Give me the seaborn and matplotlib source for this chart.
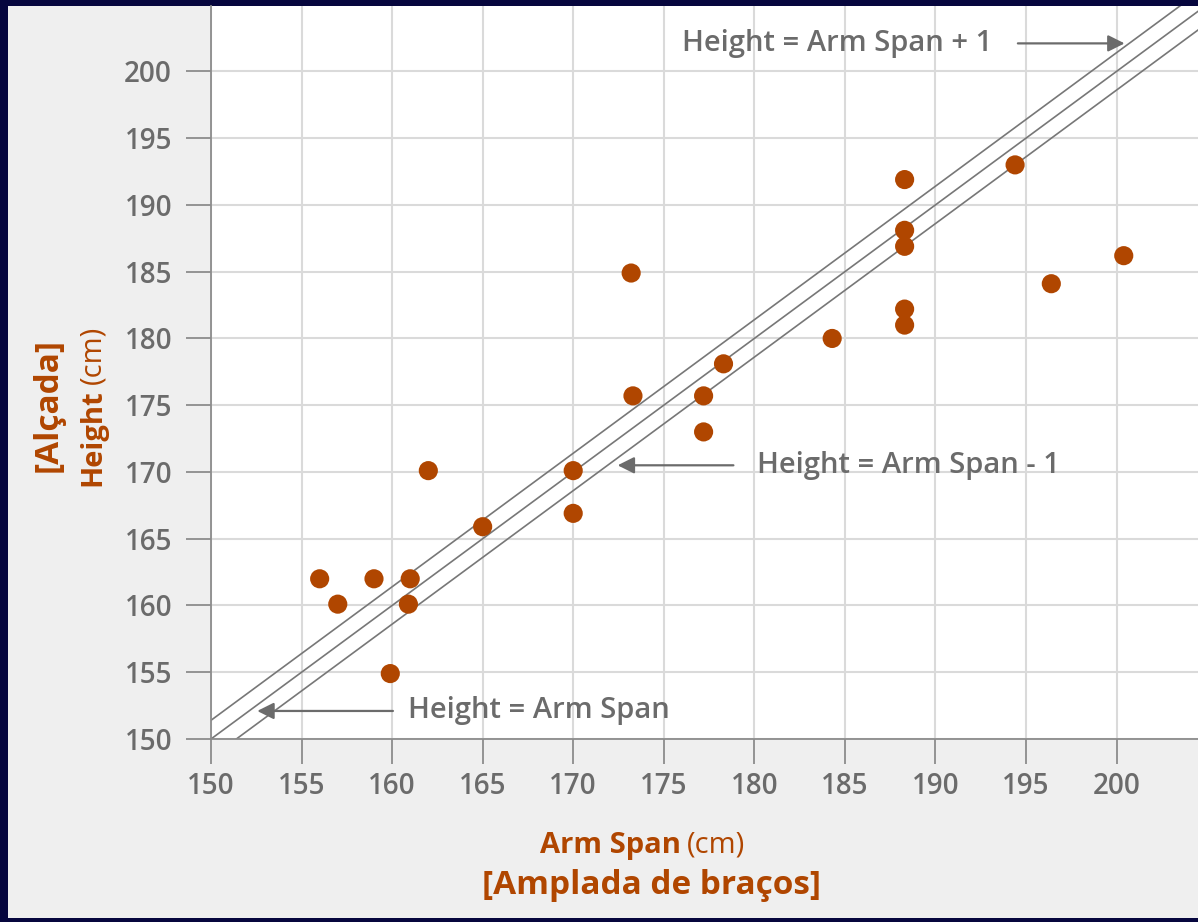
import numpy as np
import pandas as pd
import matplotlib.pyplot as plt
import seaborn as sns
from matplotlib.patches import Rectangle

# data
arm_span = [156.0, 157.0, 159.0, 161.0, 160.9, 159.9, 162.0, 165.0, 170.0, 170.0,
            173.2, 173.3, 177.2, 177.2, 178.3, 184.3, 188.3, 188.3, 188.3, 188.3,
            188.3, 194.4, 196.4, 200.4]
height = [162.0, 160.1, 162.0, 162.0, 160.1, 154.9, 170.1, 165.9, 170.1, 166.9,
          184.9, 175.7, 175.7, 173.0, 178.1, 180.0, 191.9, 188.1, 186.9, 182.2,
          181.0, 193.0, 184.1, 186.2]
line_offsets = [-1.4, 0.0, 1.4]
line_x = [140, 215]
ticks = [150, 155, 160, 165, 170, 175, 180, 185, 190, 195, 200]

ORANGE = '#b04600'
GRAY = '#6b6b6b'

df = pd.DataFrame({'ArmSpan': arm_span, 'Height': height})

sns.set_theme(style="whitegrid")
plt.rcParams['font.family'] = ['Open Sans', 'DejaVu Sans']

fig = plt.figure(figsize=(11.98, 9.22), dpi=100, facecolor='#06063e')
# light gray panel inside the navy border
fig.patches.append(Rectangle((8 / 1198, 4 / 922), 1190 / 1198, 912 / 922,
                             transform=fig.transFigure, facecolor='#efefef',
                             edgecolor='none', zorder=-10))

ax = fig.add_axes([211 / 1198, (922 - 739) / 922, 987 / 1198, 733 / 922])
ax.set_facecolor('white')

for off in line_offsets:
    ly = [v + off for v in line_x]
    sns.lineplot(x=line_x, y=ly, ax=ax, color='#777777', linewidth=1.2, zorder=2)

sns.scatterplot(data=df, x='ArmSpan', y='Height', ax=ax, color=ORANGE,
                s=190, edgecolor='none', zorder=3)

ax.set_xlim(150, 204.5)
ax.set_ylim(150, 204.9)
ax.set_xticks(ticks)
ax.set_yticks(ticks)
ax.grid(True, color='#dadada', linewidth=1.5)
for side in ['top', 'right']:
    ax.spines[side].set_visible(False)
for side in ['left', 'bottom']:
    ax.spines[side].set_color('#8c8c8c')
    ax.spines[side].set_linewidth(1.3)
ax.tick_params(axis='both', direction='out', length=18, width=1.3, color='#8c8c8c',
               labelcolor=GRAY, labelsize=20, left=True, bottom=True)
ax.tick_params(axis='y', pad=10)
ax.tick_params(axis='x', pad=6)
for lab in ax.get_xticklabels() + ax.get_yticklabels():
    lab.set_fontweight('semibold')
ax.set_xlabel('')
ax.set_ylabel('')

# annotations
arrow = dict(arrowstyle='-|>', color=GRAY, lw=1.6, mutation_scale=25)
ax.annotate('', xy=(200.6, 202.1), xytext=(194.4, 202.1), arrowprops=arrow)
ax.text(184.6, 202.1, 'Height = Arm Span + 1', color=GRAY, fontsize=21,
        fontweight='semibold', ha='center', va='center')
ax.annotate('', xy=(172.3, 170.5), xytext=(179.0, 170.5), arrowprops=arrow)
ax.text(188.5, 170.5, 'Height = Arm Span - 1', color=GRAY, fontsize=21,
        fontweight='semibold', ha='center', va='center')
ax.annotate('', xy=(152.4, 152.1), xytext=(160.2, 152.1), arrowprops=arrow)
ax.text(168.1, 152.1, 'Height = Arm Span', color=GRAY, fontsize=21,
        fontweight='semibold', ha='center', va='center')

# axis titles
fig.text(681 / 1198, 1 - 845 / 922, 'Arm Span', color=ORANGE, fontsize=21,
         fontweight='bold', ha='right', va='center')
fig.text(687 / 1198, 1 - 845 / 922, '(cm)', color=ORANGE, fontsize=21,
         ha='left', va='center')
fig.text(652 / 1198, 1 - 885 / 922, '[Amplada de braços]', color=ORANGE,
         fontsize=24, fontweight='bold', ha='center', va='center')
fig.text(93 / 1198, 1 - 389 / 922, 'Height', color=ORANGE, fontsize=21,
         fontweight='bold', rotation=90, ha='center', va='top')
fig.text(93 / 1198, 1 - 384 / 922, '(cm)', color=ORANGE, fontsize=21,
         rotation=90, ha='center', va='bottom')
fig.text(48 / 1198, 1 - 405 / 922, '[Alçada]', color=ORANGE, fontsize=24,
         fontweight='bold', rotation=90, ha='center', va='center')

fig.savefig('out.png', dpi=100, facecolor=fig.get_facecolor())
